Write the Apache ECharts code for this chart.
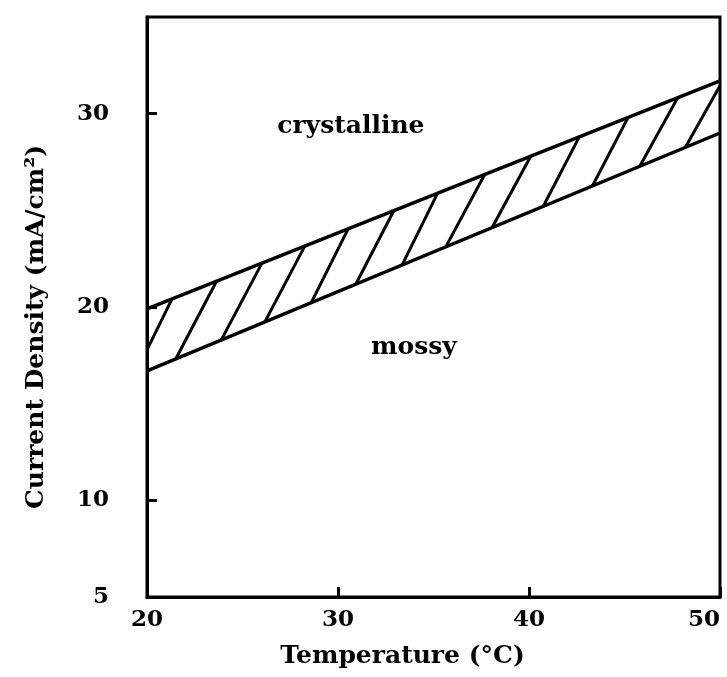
<!DOCTYPE html>
<html>
<head>
<meta charset="utf-8">
<script src="https://cdn.jsdelivr.net/npm/echarts@6/dist/echarts.min.js"></script>
<style>
  html, body { margin: 0; padding: 0; background: #fff; }
  #chart { width: 727px; height: 677px; }
</style>
</head>
<body>
<div id="chart"></div>
<script>
// Boundary between crystalline and mossy deposits vs. temperature
const xTicks = [20, 30, 40, 50];
const yLabelValues = [5, 10, 20, 30];
const yTickValues = [10, 20, 30];

// Upper edge of the transition band (crystalline above)
const upperBoundary = [[20, 19.9], [50, 31.7]];
// Lower edge of the transition band (mossy below)
const lowerBoundary = [[20, 16.7], [50, 29.0]];

// Hatch strokes across the band: [lower point, upper point]
const hatchStrokes = [
  [[20.00, 17.78], [21.31, 20.42]],
  [[21.51, 17.32], [23.64, 21.33]],
  [[23.89, 18.30], [26.02, 22.27]],
  [[26.17, 19.23], [28.26, 23.15]],
  [[28.60, 20.23], [30.54, 24.05]],
  [[30.93, 21.18], [32.92, 24.98]],
  [[33.36, 22.18], [35.21, 25.88]],
  [[35.64, 23.11], [37.68, 26.85]],
  [[38.07, 24.11], [40.09, 27.80]],
  [[40.74, 25.20], [42.64, 28.81]],
  [[43.32, 26.26], [45.19, 29.81]],
  [[45.80, 27.28], [47.79, 30.83]],
  [[48.18, 28.25], [50.00, 31.44]]
];

// Region names
const regionLabels = [
  { name: 'crystalline', value: [30.7, 29.3] },
  { name: 'mossy', value: [34.0, 17.9] }
];

const FONT = 'DejaVu Serif';
const INK = '#000';

const chart = echarts.init(document.getElementById('chart'), null, { renderer: 'canvas' });

chart.setOption({
  animation: false,
  backgroundColor: '#fff',
  grid: {
    left: 147, right: 7, top: 17, bottom: 80,
    outerBoundsMode: 'none', containLabel: false,
    show: true, borderColor: INK, borderWidth: 3, backgroundColor: 'transparent'
  },
  xAxis: {
    type: 'value', min: xTicks[0], max: xTicks[xTicks.length - 1], interval: 10,
    name: 'Temperature (°C)', nameLocation: 'middle', nameGap: 47,
    nameTextStyle: { fontFamily: FONT, fontSize: 25, color: INK, fontWeight: 'bold', padding: [0, 62, 0, 0] },
    axisLine: { show: true, lineStyle: { color: INK, width: 3 } },
    axisTick: { show: true, inside: true, length: 10, lineStyle: { color: INK, width: 3 } },
    axisLabel: {
      fontFamily: FONT, fontSize: 23, fontWeight: 'bold', color: INK, margin: 12,
      alignMaxLabel: 'right'
    },
    splitLine: { show: false }
  },
  yAxis: {
    type: 'value', min: 5, max: 35,
    name: 'Current Density (mA/cm²)', nameLocation: 'middle', nameGap: 98, nameRotate: 90,
    nameTextStyle: { fontFamily: FONT, fontSize: 25, color: INK, fontWeight: 'bold', padding: [0, 40, 0, 0] },
    axisLine: { show: true, lineStyle: { color: INK, width: 3 } },
    axisTick: { show: true, inside: true, length: 10, customValues: yTickValues, lineStyle: { color: INK, width: 3 } },
    axisLabel: { customValues: yLabelValues, fontFamily: FONT, fontSize: 23, fontWeight: 'bold', color: INK, margin: 38 },
    splitLine: { show: false }
  },
  series: [
    {
      type: 'line', data: upperBoundary, symbol: 'none',
      lineStyle: { color: INK, width: 3.5 }, z: 3
    },
    {
      type: 'line', data: lowerBoundary, symbol: 'none',
      lineStyle: { color: INK, width: 3.5 }, z: 3
    },
    {
      type: 'lines', coordinateSystem: 'cartesian2d', polyline: false,
      data: hatchStrokes.map(s => ({ coords: s })),
      lineStyle: { color: INK, width: 3, opacity: 1 }, z: 3
    },
    {
      type: 'scatter', data: regionLabels, symbolSize: 1,
      itemStyle: { color: 'rgba(0,0,0,0)', opacity: 1 },
      label: {
        show: true, position: [0, 0], align: 'center', verticalAlign: 'middle',
        formatter: p => p.name,
        fontFamily: FONT, fontSize: 25, fontWeight: 'bold', color: INK, opacity: 1
      }
    }
  ]
});
</script>
</body>
</html>
